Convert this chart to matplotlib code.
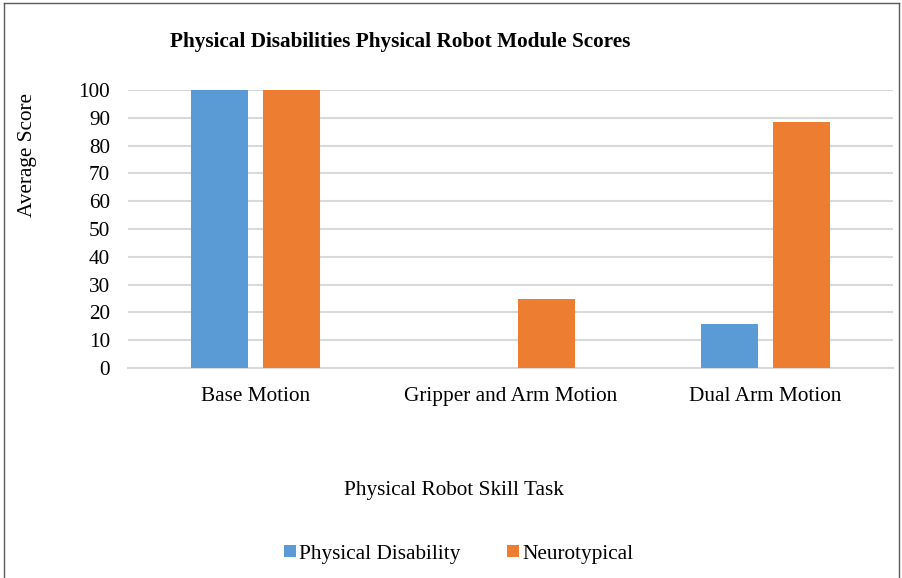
import matplotlib.pyplot as plt
import numpy as np

# Datos
categories = ["Base Motion", "Gripper and Arm Motion", "Dual Arm Motion"]
physical_disability = [100, 0, 16]
neurotypical = [100, 25, 88.5]
yticks = list(range(0, 101, 10))

plt.rcParams['font.family'] = ['Liberation Serif', 'DejaVu Serif']
fs = 15.3

fig = plt.figure(figsize=(9.03, 5.78), dpi=100)
ax = fig.add_axes([128/903, 1-368/578, 765/903, 278/578])

x = np.arange(len(categories))
w = 0.2235
off = 0.1425
ax.bar(x - off, physical_disability, w, color='#5B9BD5', label='Physical Disability', zorder=3)
ax.bar(x + off, neurotypical, w, color='#ED7D31', label='Neurotypical', zorder=3)

ax.set_xlim(-0.5, 2.5)
ax.set_ylim(0, 100)
ax.set_yticks(yticks)
ax.set_xticks(x)
ax.set_xticklabels(categories, fontsize=fs)
ax.tick_params(axis='y', labelsize=fs, length=0, pad=13)
ax.tick_params(axis='x', length=0, pad=14)
ax.yaxis.grid(True, color='#d9d9d9', linewidth=1.5, zorder=0)
ax.set_axisbelow(True)
for s in ['top', 'right', 'left']:
    ax.spines[s].set_visible(False)
ax.spines['bottom'].set_color('#d9d9d9')
ax.spines['bottom'].set_linewidth(1.5)

# Textos
fig.text(400/903, 1-42/578, "Physical Disabilities Physical Robot Module Scores",
         ha='center', va='center', fontsize=15.3, fontweight='bold')
fig.text(28/903, 1-155/578, "Average Score", rotation=90, ha='center', va='center', fontsize=fs)
fig.text(454/903, 1-491/578, "Physical Robot Skill Task", ha='center', va='center', fontsize=fs)

fig.legend(loc='center', bbox_to_anchor=(459/903, 1-554/578), ncol=2, frameon=False,
           fontsize=fs, handlelength=0.55, handleheight=0.55, handletextpad=0.15,
           columnspacing=2.2)

# Marco de la figura
fig.add_artist(plt.Line2D([4/903, 4/903], [0, 1-3/578], color='#595959', linewidth=1, transform=fig.transFigure))
fig.add_artist(plt.Line2D([4/903, 899/903], [1-3/578, 1-3/578], color='#595959', linewidth=1, transform=fig.transFigure))
fig.add_artist(plt.Line2D([899/903, 899/903], [0, 1-3/578], color='#595959', linewidth=1, transform=fig.transFigure))

fig.savefig('out.png', dpi=100)
